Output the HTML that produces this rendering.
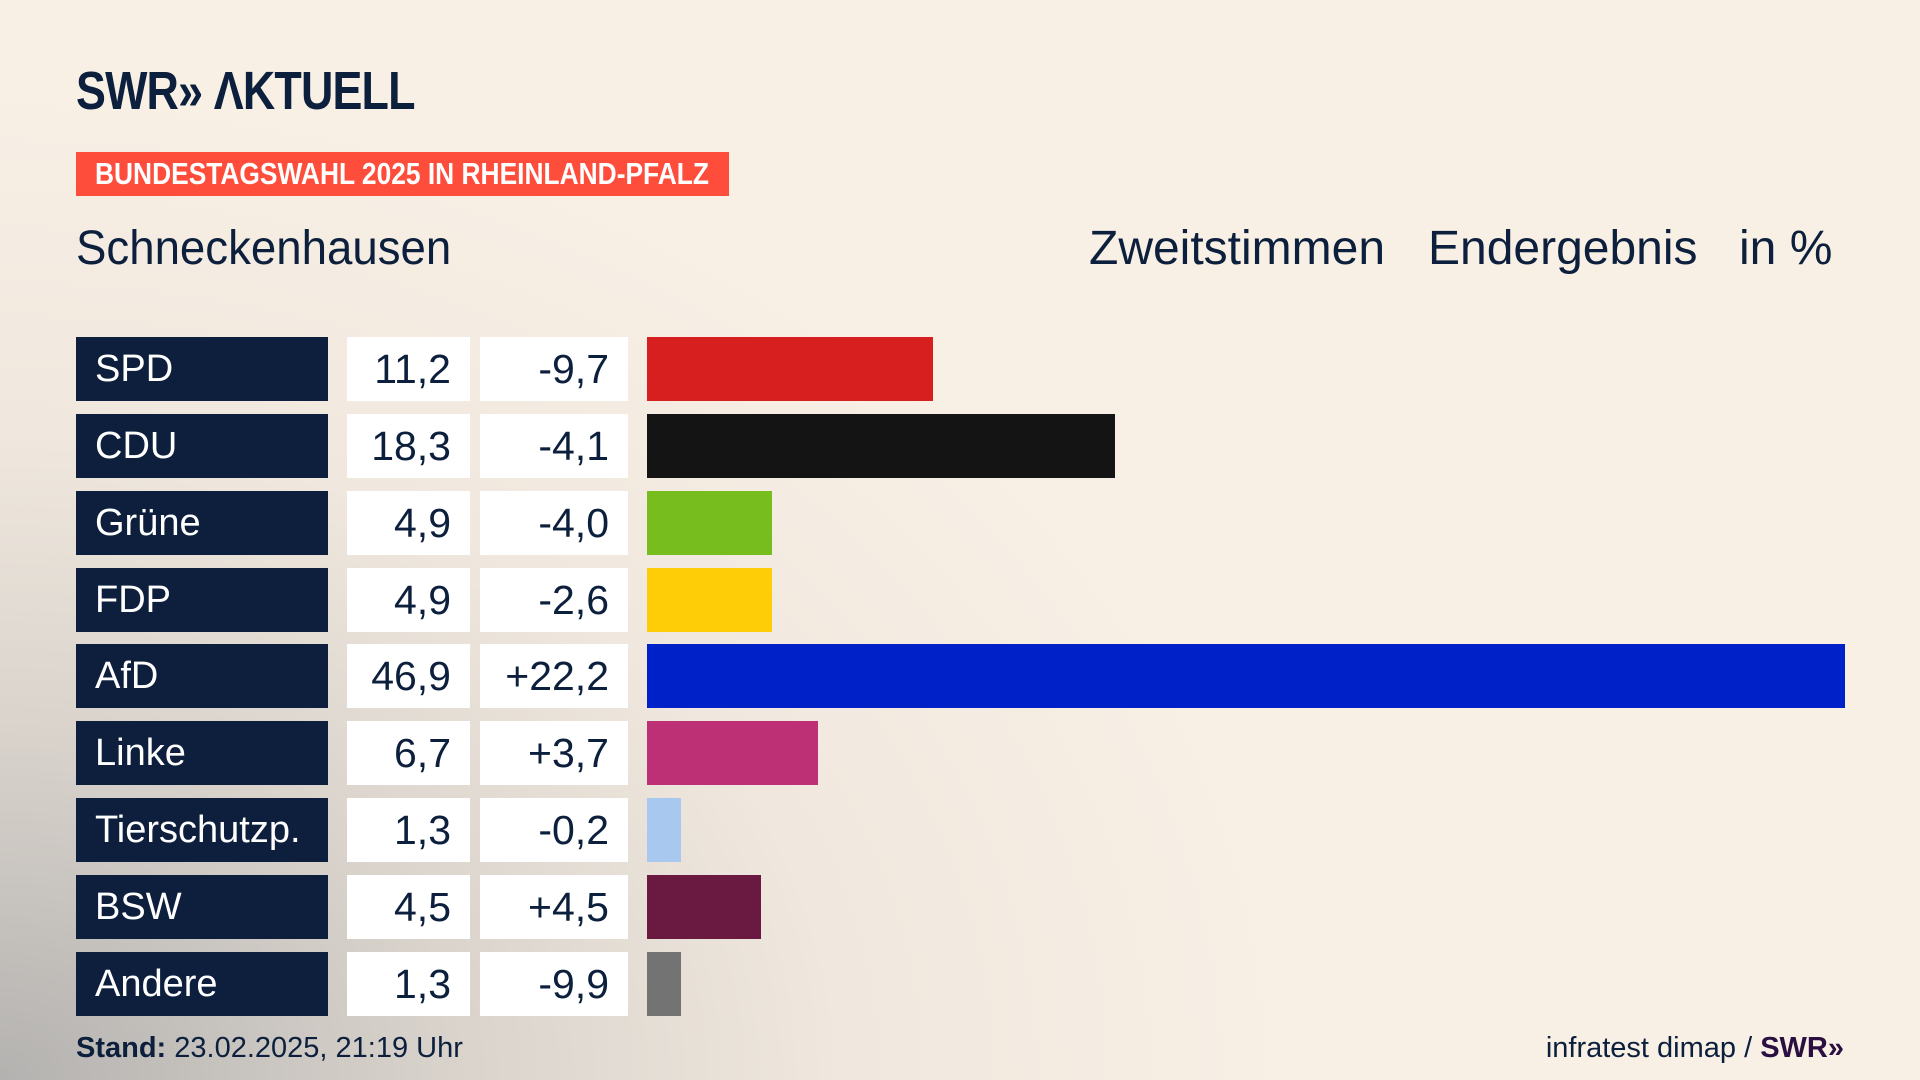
<!DOCTYPE html>
<html><head><meta charset="utf-8"><style>
html,body{margin:0;padding:0}
body{width:1920px;height:1080px;position:relative;overflow:hidden;font-family:"Liberation Sans",sans-serif;color:#0c1f3c;
background:radial-gradient(ellipse 1300px 1000px at 0% 100%, #b4b2b0 0%, #d9d3cc 35%, #f0e8de 65%, #f8f0e5 100%);}
.a{position:absolute;white-space:nowrap}
.logo{left:76px;top:64px;font-size:54px;font-weight:bold;line-height:54px;transform:scaleX(0.83);transform-origin:left;letter-spacing:-1px}
.banner{left:76px;top:152px;width:653px;height:44px;background:#fe4d3b}
.banner span{position:absolute;left:19px;top:6px;color:#fff;font-weight:bold;font-size:31px;line-height:31px;transform:scaleX(0.85);transform-origin:left;white-space:nowrap}
.h{font-size:48px;line-height:48px;top:225px}
.row{position:absolute;left:0;height:64px}
.nm{position:absolute;left:76px;width:252px;height:64px;background:#0d1f3c;color:#fff;font-size:38px;line-height:64px;box-sizing:border-box;padding-left:19px}
.v{position:absolute;left:347px;width:123px;height:64px;background:#fff;font-size:41px;line-height:64px;text-align:right;box-sizing:border-box;padding-right:19px}
.d{position:absolute;left:480px;width:148px;height:64px;background:#fff;font-size:41px;line-height:64px;text-align:right;box-sizing:border-box;padding-right:19px}
.b{position:absolute;left:647px;height:64px}
.f{font-size:29px;line-height:29px;top:1034px}
</style></head><body>
<div class="a logo">SWR» ΛKTUELL</div>
<div class="a banner"><span>BUNDESTAGSWAHL 2025 IN RHEINLAND-PFALZ</span></div>
<div class="a h" style="left:76px;transform:scaleX(0.95);transform-origin:left">Schneckenhausen</div>
<div class="a h" style="left:1089px">Zweitstimmen</div>
<div class="a h" style="left:1428px">Endergebnis</div>
<div class="a h" style="left:1739px">in %</div>

<div class="row" style="top:337px"><div class="nm">SPD</div><div class="v">11,2</div><div class="d">-9,7</div><div class="b" style="width:286px;background:#d71f1f"></div></div>
<div class="row" style="top:414px"><div class="nm">CDU</div><div class="v">18,3</div><div class="d">-4,1</div><div class="b" style="width:468px;background:#141414"></div></div>
<div class="row" style="top:491px"><div class="nm">Grüne</div><div class="v">4,9</div><div class="d">-4,0</div><div class="b" style="width:125px;background:#78bd1e"></div></div>
<div class="row" style="top:568px"><div class="nm">FDP</div><div class="v">4,9</div><div class="d">-2,6</div><div class="b" style="width:125px;background:#ffcc08"></div></div>
<div class="row" style="top:644px"><div class="nm">AfD</div><div class="v">46,9</div><div class="d">+22,2</div><div class="b" style="width:1198px;background:#0021c8"></div></div>
<div class="row" style="top:721px"><div class="nm">Linke</div><div class="v">6,7</div><div class="d">+3,7</div><div class="b" style="width:171px;background:#be3075"></div></div>
<div class="row" style="top:798px"><div class="nm">Tierschutzp.</div><div class="v">1,3</div><div class="d">-0,2</div><div class="b" style="width:34px;background:#a9c8ef"></div></div>
<div class="row" style="top:875px"><div class="nm">BSW</div><div class="v">4,5</div><div class="d">+4,5</div><div class="b" style="width:114px;background:#6a1a40"></div></div>
<div class="row" style="top:952px"><div class="nm">Andere</div><div class="v">1,3</div><div class="d">-9,9</div><div class="b" style="width:34px;background:#737373"></div></div>

<div class="a f" style="left:76px"><b>Stand:</b> 23.02.2025, 21:19 Uhr</div>
<div class="a f" style="right:76px">infratest dimap / <b style="color:#2a0f40">SWR»</b></div>
</body></html>
